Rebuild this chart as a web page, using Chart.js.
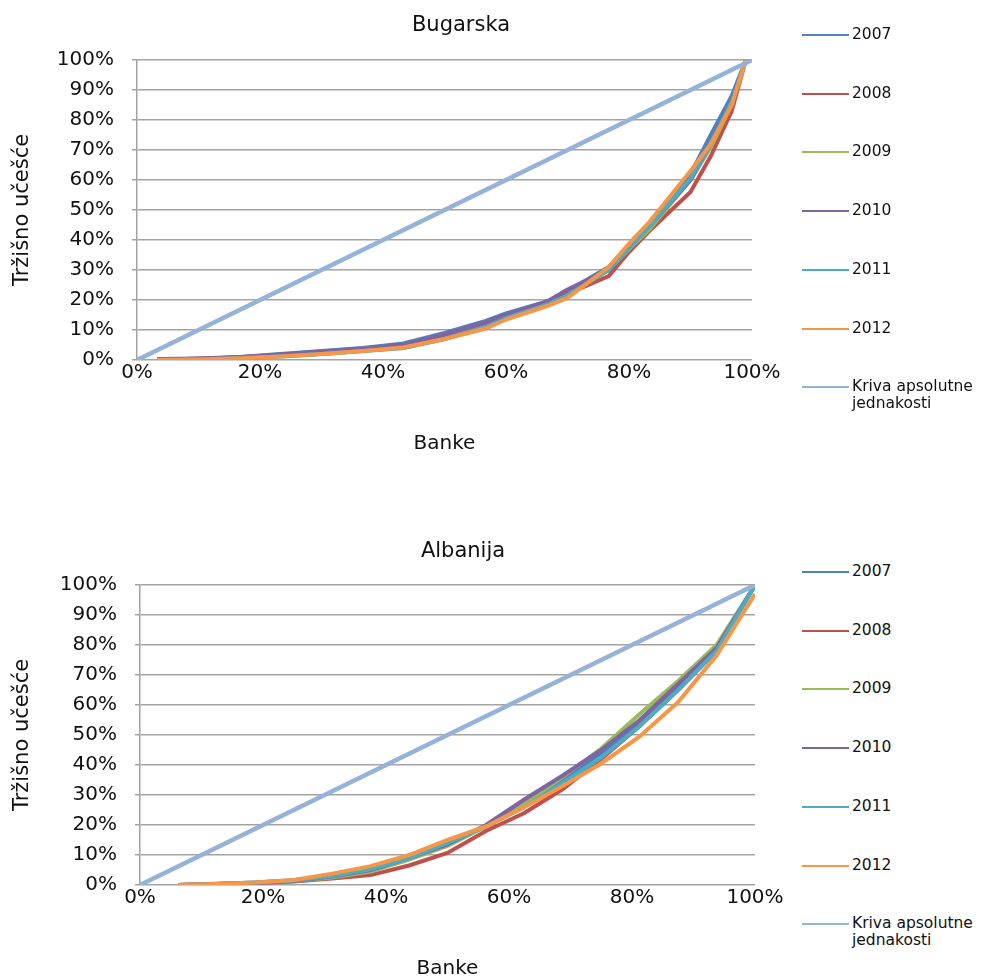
<!DOCTYPE html>
<html>
<head>
<meta charset="utf-8">
<script src="https://cdn.jsdelivr.net/npm/chart.js@4"></script>
<style>
  html, body { margin: 0; padding: 0; background: #fff; overflow: hidden; }
  #page { position: relative; width: 987px; height: 978px; font-family: "DejaVu Sans", sans-serif; color: #111; }
  .wrap { position: absolute; left: 0; }
  .title { position: absolute; font-size: 21px; transform: translate(-50%, -50%); white-space: nowrap; }
  .leg-line { position: absolute; height: 2px; width: 47px; }
  .leg-text { position: absolute; font-size: 15.5px; line-height: 17px; }
</style>
</head>
<body>
<div id="page">
  <div class="wrap" style="top:0;width:790px;height:453px"><canvas id="bgChart"></canvas></div>
  <div class="wrap" style="top:525px;width:793px;height:453px"><canvas id="alChart"></canvas></div>
</div>
<script>
// legend / series names
const seriesNames = ['2007', '2008', '2009', '2010', '2011', '2012'];
const diagonalName = 'Kriva apsolutne jednakosti';
const colors = ['#4F81BD', '#C0504D', '#9BBB59', '#8064A2', '#4BACC6', '#F79646'];
const diagonalColor = '#95B3D7';

// Bugarska - cumulative share of banks (x, %) and market share (y, %)
const bgBanks = [3.3, 10, 16.7, 23.3, 30, 36.7, 43.3, 50, 56.7, 60, 66.7, 70, 76.7, 80, 83.3, 90, 93.3, 96.7, 99];
const bg2007 = [0.3, 0.5, 1, 2, 3, 4, 5.5, 9, 13, 15.5, 19.5, 23, 31, 38, 45, 62, 75, 88, 100];
const bg2008 = [0.2, 0.4, 0.9, 1.6, 2.5, 3.5, 4.8, 8, 12, 14.5, 19, 22, 28, 36, 43, 56, 68, 83, 100];
const bg2009 = [0, 0.2, 0.7, 1.3, 2, 3, 4, 7, 11, 14, 18.5, 21.5, 30, 37, 43.5, 60, 71, 85, 100];
const bg2010 = [0.2, 0.4, 0.9, 1.8, 2.8, 3.8, 5, 8.5, 12.5, 15, 19.5, 23.5, 30, 37.5, 44.5, 60, 72, 86, 100];
const bg2011 = [0, 0.2, 0.6, 1.2, 2, 3, 4, 7, 11, 14, 18.5, 21.5, 30, 37.5, 44.5, 60.5, 72, 86, 100];
const bg2012 = [0, 0.2, 0.6, 1.2, 2, 3, 4.2, 7, 10.5, 13.5, 18, 20.7, 31, 38.8, 46, 63, 72, 85, 100];

// Albanija
const alBanks = [6.25, 12.5, 18.75, 25, 31.25, 37.5, 43.75, 50, 56.25, 62.5, 68.75, 75, 81.25, 87.5, 93.75, 100];
const al2007 = [0, 0.4, 0.8, 1.6, 3.2, 5.5, 9.5, 14, 19.5, 27, 35, 44, 54, 66, 78.5, 100];
const al2008 = [0, 0.3, 0.7, 1.2, 2.2, 3.3, 6.5, 10.7, 18, 24, 32, 42, 53, 65, 78, 100];
const al2009 = [0, 0.3, 0.7, 1.3, 2.5, 4.5, 8.5, 13, 19.5, 27, 36, 45.5, 57, 68, 80, 100];
const al2010 = [0, 0.3, 0.7, 1.3, 2.8, 5, 9, 13.5, 20, 28.5, 36.5, 45, 55, 67, 79, 100];
const al2011 = [0, 0.3, 0.8, 1.5, 3, 5.2, 9, 14, 19.5, 26, 34, 42.5, 53, 65, 78, 100];
const al2012 = [0, 0.3, 0.8, 1.7, 3.8, 6.3, 10, 15, 19.5, 26, 33, 40.5, 49.5, 61, 76.5, 97];

// line of absolute equality
const diagonalX = [0, 100];
const diagonalY = [0, 100];

const xTicks = [0, 20, 40, 60, 80, 100];
const yMax = 100;

const page = document.getElementById('page');

function addText(cls, text, left, top) {
  const el = document.createElement('div');
  el.className = cls;
  el.textContent = text;
  el.style.left = left + 'px';
  el.style.top = top + 'px';
  page.appendChild(el);
  return el;
}

function addLegend(top) {
  const step = 58.7;
  seriesNames.concat([diagonalName]).forEach((name, i) => {
    const y = top + i * step;
    const line = document.createElement('div');
    line.className = 'leg-line';
    line.style.left = '802px';
    line.style.top = (y - 1) + 'px';
    line.style.background = i < seriesNames.length ? colors[i] : diagonalColor;
    page.appendChild(line);
    const t = addText('leg-text', '', 852, y - 9);
    if (i < seriesNames.length) {
      t.textContent = name;
    } else {
      t.innerHTML = 'Kriva apsolutne<br>jednakosti';
    }
  });
}

function pairs(xs, ys) {
  return xs.map((x, i) => ({ x: x, y: ys[i] }));
}

function createGraph(element, banks, rows, plotLeft, plotRight) {
  const datasets = rows.map((ys, i) => ({
    label: seriesNames[i],
    data: pairs(banks, ys),
    borderColor: colors[i],
    borderWidth: 4,
    pointRadius: 0,
    tension: 0,
    order: 10 - i
  }));
  datasets.push({
    label: diagonalName,
    data: pairs(diagonalX, diagonalY),
    borderColor: diagonalColor,
    borderWidth: 4.5,
    pointRadius: 0,
    order: 1
  });

  const width = element.parentNode.clientWidth;

  new Chart(element, {
    type: 'line',
    data: { datasets },
    options: {
      responsive: true,
      maintainAspectRatio: false,
      animation: false,
      layout: {
        padding: { top: 60, right: width - plotRight, bottom: 0, left: 0 }
      },
      plugins: {
        legend: { display: false },
        title: { display: false },
        tooltip: { enabled: false }
      },
      scales: {
        x: {
          type: 'linear',
          min: 0,
          max: 100,
          afterBuildTicks: (scale) => { scale.ticks = xTicks.map(v => ({ value: v })); },
          afterFit: (scale) => { scale.height = 93; },
          grid: { display: false, drawTicks: false },
          border: { display: false },
          ticks: {
            padding: 1,
            color: '#111',
            font: { family: 'DejaVu Sans', size: 20 },
            maxRotation: 0,
            callback: (v) => v + '%'
          },
          title: {
            display: true,
            text: 'Banke',
            color: '#111',
            font: { family: 'DejaVu Sans', size: 20 },
            padding: { top: 0, bottom: -3 }
          }
        },
        y: {
          min: 0,
          max: yMax,
          afterFit: (scale) => { scale.width = plotLeft; },
          grid: { color: '#a3a3a3', lineWidth: 1.5, tickLength: 5 },
          border: { display: true, color: '#a3a3a3', width: 1.5 },
          ticks: {
            stepSize: 10,
            padding: 18,
            color: '#111',
            font: { family: 'DejaVu Sans', size: 20 },
            callback: (v) => v + '%'
          },
          title: {
            display: true,
            text: 'Tržišno učešće',
            color: '#111',
            font: { family: 'DejaVu Sans', size: 21 },
            padding: { top: 10, bottom: 0 }
          }
        }
      }
    }
  });
}

createGraph(document.getElementById('bgChart'), bgBanks,
  [bg2007, bg2008, bg2009, bg2010, bg2011, bg2012], 137, 752);
createGraph(document.getElementById('alChart'), alBanks,
  [al2007, al2008, al2009, al2010, al2011, al2012], 140, 755);

addText('title', 'Bugarska', 461, 24);
addText('title', 'Albanija', 463, 550);
addLegend(35);
addLegend(572);
</script>
</body>
</html>
